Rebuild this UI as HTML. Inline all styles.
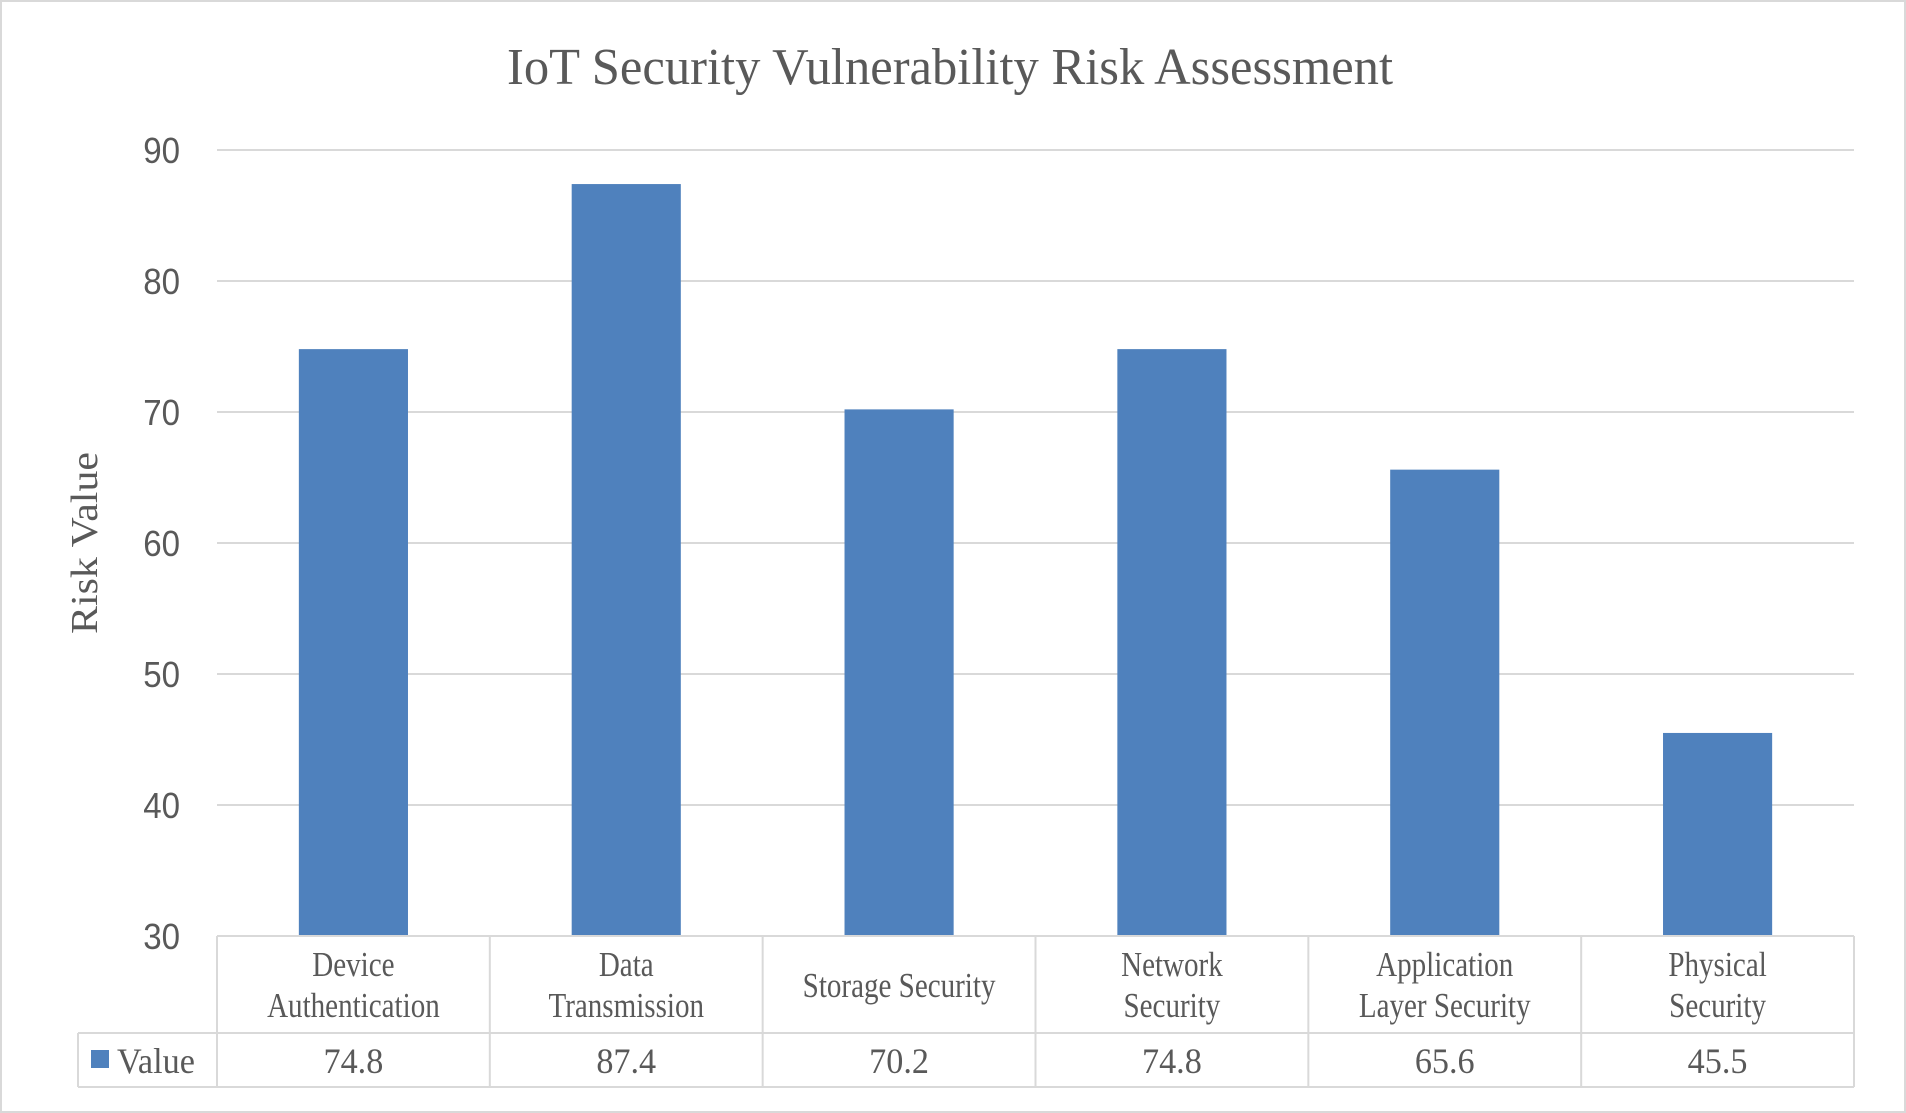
<!DOCTYPE html>
<html><head><meta charset="utf-8"><style>
html,body{margin:0;padding:0;background:#fff;}
svg{display:block;}
text{fill:#595959;}
.serif{font-family:"Liberation Serif",serif;}
.sans{font-family:"Liberation Sans",sans-serif;}
</style></head><body>
<svg id="chart" width="1906" height="1113" viewBox="0 0 1906 1113">
<rect x="1" y="1" width="1904" height="1111" fill="#fff" stroke="#d9d9d9" stroke-width="2"/>
<text class="serif" x="950" y="84" font-size="52" text-anchor="middle" textLength="886" lengthAdjust="spacingAndGlyphs">IoT Security Vulnerability Risk Assessment</text>
<text class="serif" x="0" y="0" font-size="38" text-anchor="middle" textLength="182" lengthAdjust="spacingAndGlyphs" transform="translate(97,543) rotate(-90)">Risk Value</text>
<g id="grid"></g><g id="bars"></g><g id="table"></g>
</svg>
<script>
const categories = [["Device","Authentication"],["Data","Transmission"],["Storage Security"],["Network","Security"],["Application","Layer Security"],["Physical","Security"]];
const values = [74.8, 87.4, 70.2, 74.8, 65.6, 45.5];
const valueLabels = ["74.8","87.4","70.2","74.8","65.6","45.5"];
const yTicks = [30,40,50,60,70,80,90];
const NS="http://www.w3.org/2000/svg";
const L=217,R=1854,top90=150,bottom30=936,yMin=30,yMax=90;
const y=v=>bottom30-(v-yMin)/(yMax-yMin)*(bottom30-top90);
const step=(R-L)/categories.length;
const x=i=>L+i*step;
function mk(tag,attrs,parent){const e=document.createElementNS(NS,tag);for(const k in attrs)e.setAttribute(k,attrs[k]);parent.appendChild(e);return e;}
function squeeze(t,f){const w=t.getComputedTextLength();t.setAttribute('textLength',(w*f).toFixed(1));t.setAttribute('lengthAdjust','spacingAndGlyphs');}
const grid=document.getElementById('grid'),bars=document.getElementById('bars'),table=document.getElementById('table');
yTicks.forEach(t=>{
  if(t>yMin){const ln=mk('line',{x1:L,x2:R,y1:y(t),y2:y(t),stroke:'#d9d9d9','stroke-width':2},grid);
  
  }
  const tx=mk('text',{x:180,y:y(t)+13,'font-size':36,'text-anchor':'end',class:'sans'},grid);
  tx.textContent=t;
  
  
  squeeze(tx,0.92);
});
values.forEach((v,i)=>{
  const w=step*0.4;
  const b=mk('rect',{x:x(i)+(step-w)/2,y:y(v),width:w,height:bottom30-y(v),fill:'#4f81bd'},bars);
  
  
});
const rowMid=1033,rowBot=1087,legL=78;
[[L,bottom30,R,bottom30],[legL,rowMid,R,rowMid],[legL,rowBot,R,rowBot],[legL,rowMid,legL,rowBot]].forEach(a=>{
  const ln=mk('line',{x1:a[0],y1:a[1],x2:a[2],y2:a[3],stroke:'#d9d9d9','stroke-width':2},table);
  
  
});
for(let i=0;i<=categories.length;i++){
  const ln=mk('line',{x1:x(i),y1:bottom30,x2:x(i),y2:rowBot,stroke:'#d9d9d9','stroke-width':2},table);
  
  
}
categories.forEach((c,i)=>{
  const cx=x(i)+step/2;
  const lines=c.length===1?[997]:[976,1017];
  c.forEach((s,j)=>{
    const t=mk('text',{x:cx,y:lines[j],'font-size':35,'text-anchor':'middle',class:'serif'},table);
    t.textContent=s;
    
    
    squeeze(t,0.83);
  });
  const vt=mk('text',{x:cx,y:1073,'font-size':36,'text-anchor':'middle',class:'serif'},table);
  vt.textContent=valueLabels[i];
  
  
  squeeze(vt,0.95);
});
const key=mk('rect',{x:91,y:1050,width:18,height:18,fill:'#4f81bd'},table);


const lt=mk('text',{x:117,y:1073,'font-size':36,class:'serif'},table);
lt.textContent='Value';


squeeze(lt,0.95);
</script>
</body></html>
